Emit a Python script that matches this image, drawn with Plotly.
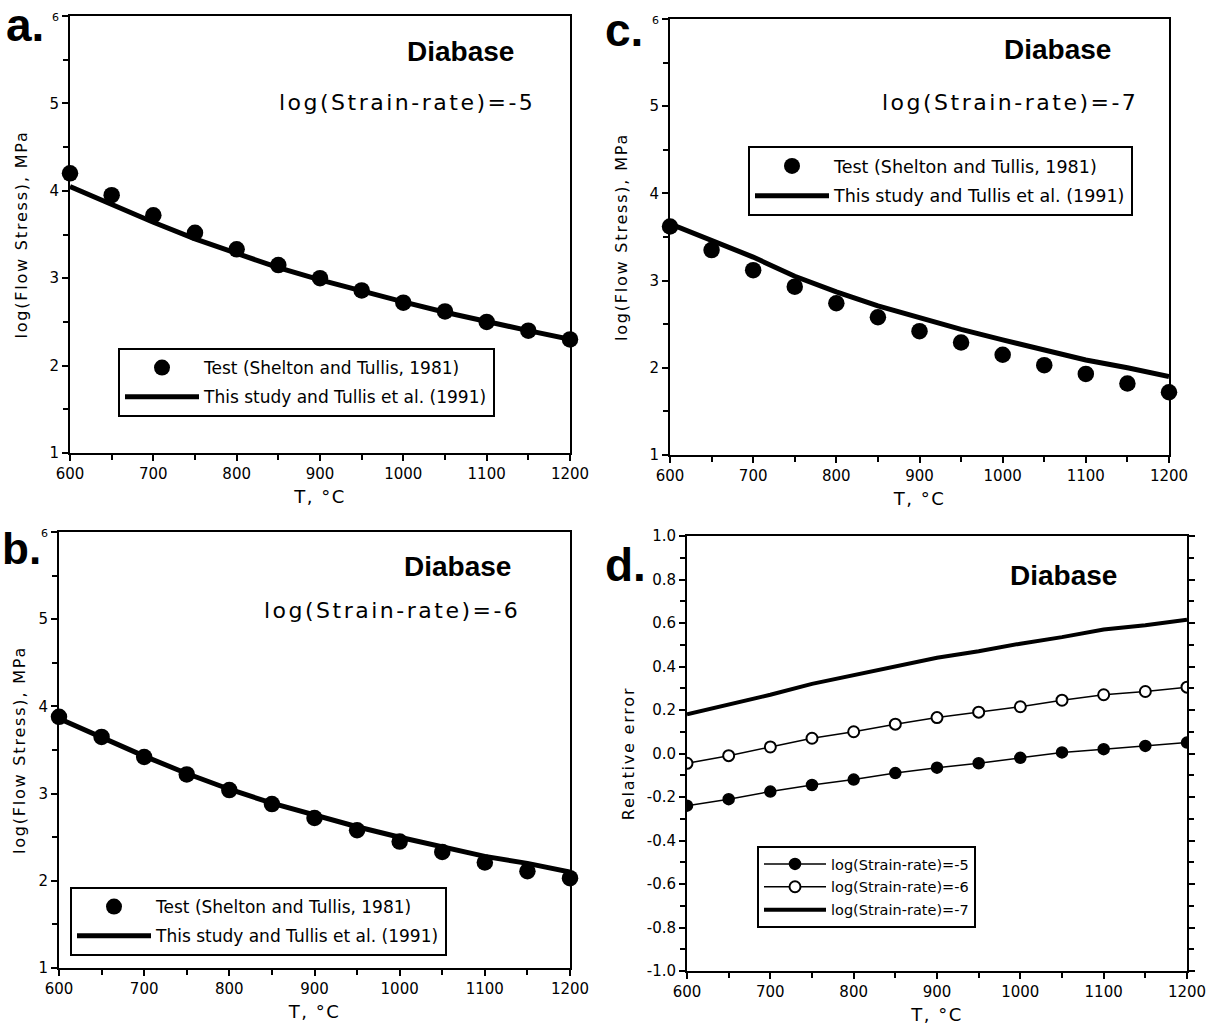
import plotly.graph_objects as go

T = [600, 650, 700, 750, 800, 850, 900, 950, 1000, 1050, 1100, 1150, 1200]

# Panel a: log(strain-rate) = -5
test_a = [4.20, 3.95, 3.72, 3.52, 3.33, 3.15, 3.00, 2.86, 2.72, 2.62, 2.50, 2.40, 2.30]
model_a = [4.05, 3.84, 3.64, 3.45, 3.28, 3.12, 2.98, 2.85, 2.73, 2.61, 2.50, 2.40, 2.30]
# Panel b: log(strain-rate) = -6
test_b = [3.88, 3.65, 3.42, 3.22, 3.04, 2.88, 2.72, 2.58, 2.45, 2.33, 2.21, 2.11, 2.03]
model_b = [3.86, 3.64, 3.43, 3.23, 3.05, 2.89, 2.75, 2.62, 2.50, 2.39, 2.28, 2.20, 2.10]
# Panel c: log(strain-rate) = -7
test_c = [3.62, 3.35, 3.12, 2.93, 2.74, 2.58, 2.42, 2.29, 2.15, 2.03, 1.93, 1.82, 1.72]
model_c = [3.65, 3.46, 3.27, 3.05, 2.87, 2.71, 2.57, 2.44, 2.32, 2.21, 2.09, 2.00, 1.90]
# Panel d: relative error
err_5 = [-0.24, -0.21, -0.175, -0.145, -0.12, -0.09, -0.065, -0.045, -0.02, 0.005, 0.02, 0.035, 0.05]
err_6 = [-0.045, -0.01, 0.03, 0.07, 0.10, 0.135, 0.165, 0.19, 0.215, 0.245, 0.27, 0.285, 0.305]
err_7 = [0.18, 0.225, 0.27, 0.32, 0.36, 0.40, 0.44, 0.47, 0.505, 0.535, 0.57, 0.59, 0.615]

x_ticks = [600, 700, 800, 900, 1000, 1100, 1200]
y_ticks = [1, 2, 3, 4, 5, 6]
d_ticks = [-1.0, -0.8, -0.6, -0.4, -0.2, 0.0, 0.2, 0.4, 0.6, 0.8, 1.0]
d_ticktext = [f"{v:.1f}" for v in d_ticks]

LBL_TEST = "Test (Shelton and Tullis, 1981)"
LBL_MODEL = "This study and Tullis et al. (1991)"

W, H = 1217, 1030
def px(x0, x1):
    return [x0 / W, x1 / W]
def py(top, bottom):
    return [1 - bottom / H, 1 - top / H]

FONT = "DejaVu Sans"
BOLD = "Liberation Sans"

def spaced(text, ls):
    return f'<span style="letter-spacing:{ls}px">{text}</span>'

fig = go.Figure()

panels = [
    ("x", "y", test_a, model_a, "legend"),
    ("x2", "y2", test_c, model_c, "legend2"),
    ("x3", "y3", test_b, model_b, "legend3"),
]
for i, (xa, ya, tv, mv, lg) in enumerate(panels):
    fig.add_trace(go.Scatter(x=T, y=tv, mode="markers", name=LBL_TEST, xaxis=xa, yaxis=ya,
                             legendgroup=f"t{i}", marker=dict(color="black", size=16.5),
                             legend=lg, cliponaxis=False))
    fig.add_trace(go.Scatter(x=T, y=mv, mode="lines", name=LBL_MODEL, xaxis=xa, yaxis=ya,
                             legendgroup=f"m{i}", line=dict(color="black", width=5),
                             legend=lg, cliponaxis=False))

fig.add_trace(go.Scatter(x=T, y=err_5, mode="lines+markers", name="log(Strain-rate)=-5",
                         xaxis="x4", yaxis="y4", legend="legend4", legendgroup="d5",
                         line=dict(color="black", width=1.5),
                         marker=dict(color="black", size=11, line=dict(color="black", width=1.5))))
fig.add_trace(go.Scatter(x=T, y=err_6, mode="lines+markers", name="log(Strain-rate)=-6",
                         xaxis="x4", yaxis="y4", legend="legend4", legendgroup="d6",
                         line=dict(color="black", width=1.5),
                         marker=dict(color="white", size=11, line=dict(color="black", width=2))))
fig.add_trace(go.Scatter(x=T, y=err_7, mode="lines", name="log(Strain-rate)=-7",
                         xaxis="x4", yaxis="y4", legend="legend4", legendgroup="d7",
                         line=dict(color="black", width=4)))

tickfont = dict(family=FONT, size=15, color="black")
titlefont = dict(family=FONT, size=16, color="black")

def xaxis(dom, anchor):
    return dict(domain=dom, anchor=anchor, range=[600, 1200], tickvals=x_ticks,
                automargin=False,
                showline=True, linecolor="black", linewidth=2, mirror=True,
                ticks="outside", ticklen=6, tickwidth=2, tickcolor="black",
                minor=dict(ticks="outside", ticklen=5, tickwidth=2, dtick=50, tickcolor="black"),
                showgrid=False, zeroline=False, tickfont=tickfont,
                title=dict(text=spaced("T, °C", 1.5), font=dict(family=FONT, size=18, color="black"), standoff=8))

def yaxis(dom, anchor, vals, text, rng, minor_dtick, title, mirror=True, standoff=18):
    return dict(domain=dom, anchor=anchor, range=rng, tickvals=vals, ticktext=text,
                automargin=False,
                showline=True, linecolor="black", linewidth=2, mirror=mirror,
                ticks="outside", ticklen=6, tickwidth=2, tickcolor="black",
                minor=dict(ticks="outside", ticklen=5, tickwidth=2, dtick=minor_dtick, tickcolor="black"),
                showgrid=False, zeroline=False, tickfont=tickfont,
                title=dict(text=spaced(title, 1.8), font=titlefont, standoff=standoff))

ylbl = [str(v) for v in y_ticks[:-1]] + ['<span style="font-size:11px">6</span>']
YT = "log(Flow Stress), MPa"

legend_common = dict(bgcolor="white", bordercolor="black", borderwidth=2,
                     font=dict(family=FONT, size=17, color="black"),
                     itemwidth=74, tracegroupgap=4, xanchor="left", yanchor="top")

fig.update_layout(
    width=W, height=H, margin=dict(l=0, r=0, t=0, b=0, autoexpand=False),
    paper_bgcolor="white", plot_bgcolor="white",
    xaxis=xaxis(px(70, 570), "y"),
    yaxis=yaxis(py(16, 453), "x", y_ticks, ylbl, [1, 6], 0.5, YT),
    xaxis2=xaxis(px(670, 1169), "y2"),
    yaxis2=yaxis(py(19, 455), "x2", y_ticks, ylbl, [1, 6], 0.5, YT),
    xaxis3=xaxis(px(59, 570), "y3"),
    yaxis3=yaxis(py(532, 968), "x3", y_ticks, ylbl, [1, 6], 0.5, YT, standoff=9),
    xaxis4=xaxis(px(687, 1187), "y4"),
    yaxis4=yaxis(py(536, 971), "x4", d_ticks, d_ticktext, [-1, 1], 0.1, "Relative error",
                 mirror="ticks", standoff=8),
    legend=dict(x=118 / W, y=1 - 348 / H, **legend_common),
    legend2=dict(x=748 / W, y=1 - 146 / H,
                 **{**legend_common, "font": dict(family=FONT, size=17.5, color="black")}),
    legend3=dict(x=70 / W, y=1 - 887 / H, **legend_common),
    legend4=dict(x=757 / W, y=1 - 846 / H,
                 **{**legend_common, "font": dict(family=FONT, size=14.5, color="black"),
                    "itemwidth": 62, "tracegroupgap": 1}),
    showlegend=True,
)

def ann(text, x, y, size, family=FONT, xanchor="center"):
    fig.add_annotation(text=text, x=x / W, y=1 - y / H,
                       xref="paper", yref="paper", showarrow=False, borderpad=0,
                       font=dict(family=family, size=size, color="black"),
                       xanchor=xanchor, yanchor="middle")

ann("<b>a.</b>", 5, 25, 46, BOLD, "left")
ann("<b>c.</b>", 604, 30, 46, BOLD, "left")
ann("<b>b.</b>", 1, 548, 44, BOLD, "left")
ann("<b>d.</b>", 604, 565, 46, BOLD, "left")
ann("<b>Diabase</b>", 460, 52, 28, BOLD)
ann(spaced("log(Strain-rate)=-5", 2.5), 407, 102, 22)
ann("<b>Diabase</b>", 1057, 50, 28, BOLD)
ann(spaced("log(Strain-rate)=-7", 2.5), 1010, 102, 22)
ann("<b>Diabase</b>", 458, 566, 28, BOLD)
ann(spaced("log(Strain-rate)=-6", 2.5), 392, 610, 22)
ann("<b>Diabase</b>", 1063, 575, 28, BOLD)

fig.write_html("out.html")
